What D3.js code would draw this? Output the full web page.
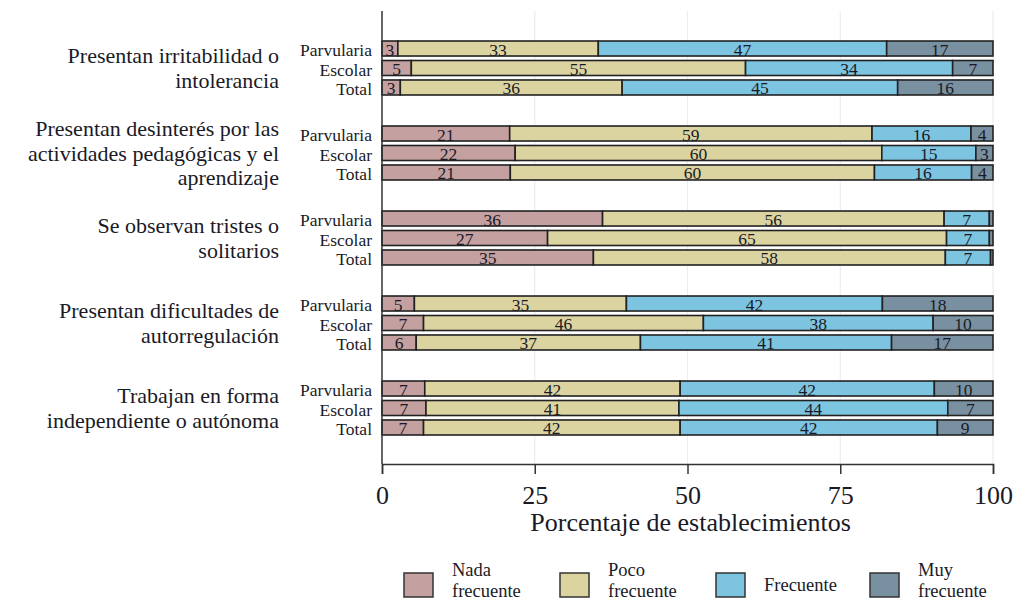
<!DOCTYPE html>
<html><head><meta charset="utf-8">
<script src="https://cdn.jsdelivr.net/npm/d3@7"></script>
<style>
html,body{margin:0;padding:0;background:#fff;}
svg text{font-family:"Liberation Serif","Times New Roman",serif;fill:#1a1a26;}
</style></head>
<body><svg id="c" width="1016" height="602"></svg>
<script>
const groups = [
  ["Presentan irritabilidad o","intolerancia"],
  ["Presentan desinterés por las","actividades pedagógicas y el","aprendizaje"],
  ["Se observan tristes o","solitarios"],
  ["Presentan dificultades de","autorregulación"],
  ["Trabajan en forma","independiente o autónoma"]
];
const levels = ["Parvularia","Escolar","Total"];
const seriesNames = ["Nada frecuente","Poco frecuente","Frecuente","Muy frecuente"];
const seriesLegend = [["Nada","frecuente"],["Poco","frecuente"],["Frecuente"],["Muy","frecuente"]];
const colors = ["#c4a0a0","#dcd4a0","#7cc4e0","#7890a0"];
// values per group: [Parvularia, Escolar, Total] each series
const nada  = [[2.6,4.8,3.0],[20.9,21.8,21.0],[36.1,27.1,34.6],[5.3,6.8,5.6],[7.0,7.2,6.8]];
const poco  = [[32.8,54.7,36.3],[59.3,60.0,59.6],[55.9,65.3,57.6],[34.7,45.8,36.7],[41.8,41.4,42.0]];
const frec  = [[47.2,33.9,45.1],[16.2,15.4,15.9],[7.4,7.0,7.4],[41.9,37.6,41.1],[41.6,44.0,42.1]];
const muy   = [[17.4,6.6,15.6],[3.6,2.8,3.5],[0.6,0.6,0.4],[18.1,9.8,16.6],[9.6,7.4,9.1]];
const xTicks = [0,25,50,75,100];

const svg = d3.select("#c");
const x = d3.scaleLinear().domain([0,100]).range([382,993]);
const gIdx = d3.range(groups.length);
const y0 = d3.scaleBand().domain(gIdx).range([25.5,450.5]).paddingInner(0.365).paddingOuter(0.1825);
const y1 = d3.scaleBand().domain(levels).range([0,y0.bandwidth()]).paddingInner(0.23).paddingOuter(0);
const color = d3.scaleOrdinal().domain(seriesNames).range(colors);

// gridlines
svg.append("g").selectAll("line").data(xTicks.slice(1)).join("line")
  .attr("x1",d=>x(d)).attr("x2",d=>x(d)).attr("y1",11).attr("y2",464)
  .attr("stroke","#e9eef2").attr("stroke-width",1.2);

const rows = [];
gIdx.forEach(g=>{
  levels.forEach((lv,li)=>{
    const vals=[nada[g][li],poco[g][li],frec[g][li],muy[g][li]];
    let acc=0;
    vals.forEach((v,si)=>{rows.push({g,lv,si,x0:acc,x1:acc+v,v});acc+=v;});
  });
});

const bars = svg.append("g");
bars.selectAll("rect").data(rows).join("rect")
  .attr("x",d=>x(d.x0)).attr("width",d=>x(d.x1)-x(d.x0))
  .attr("y",d=>y0(d.g)+y1(d.lv)).attr("height",y1.bandwidth())
  .attr("fill",d=>color(seriesNames[d.si]))
  .attr("stroke","#222").attr("stroke-width",1.6);

bars.selectAll("text").data(rows.filter(d=>d.v>=1.5)).join("text")
  .attr("x",d=>x((d.x0+d.x1)/2)).attr("y",d=>y0(d.g)+y1(d.lv)+y1.bandwidth()-0.5)
  .attr("text-anchor","middle")
  .attr("font-size",17.5).text(d=>Math.round(d.v));

// labels
gIdx.forEach(g=>{
  svg.append("g").selectAll("text").data(levels).join("text")
    .attr("x",372).attr("y",d=>y0(g)+y1(d)+y1.bandwidth())
    .attr("text-anchor","end")
    .attr("font-size",17.5).text(d=>d);
  const lines = groups[g];
  const cy = y0(g)+y0.bandwidth()/2;
  const lh = 24.4;
  svg.append("g").selectAll("text").data(lines).join("text")
    .attr("x",279).attr("y",(d,i)=>cy+(i-(lines.length-1)/2)*lh+7.5)
    .attr("text-anchor","end")
    .attr("font-size",22).text(d=>d);
});

// axes
svg.append("line").attr("x1",382).attr("x2",382).attr("y1",11).attr("y2",464)
  .attr("stroke","#333").attr("stroke-width",1.5);
const xa = svg.append("g").attr("transform","translate(0,464)")
  .call(d3.axisBottom(x).tickValues(xTicks).tickSize(10).tickPadding(12).tickFormat(d3.format("d")));
xa.select(".domain").attr("stroke","#333").attr("stroke-width",1.5);
xa.selectAll(".tick line").attr("stroke","#333").attr("stroke-width",1.5);
xa.selectAll(".tick text").attr("font-size",26).attr("font-family","Liberation Serif, serif").attr("fill","#1a1a26");
svg.append("text").attr("x",x(50.5)).attr("y",531).attr("text-anchor","middle")
  .attr("font-size",26).text("Porcentaje de establecimientos");

// legend
const legX = [404,560,716,870];
const lg = svg.append("g");
seriesNames.forEach((s,i)=>{
  lg.append("rect").attr("x",legX[i]).attr("y",573).attr("width",29).attr("height",24)
    .attr("fill",color(s)).attr("stroke","#333").attr("stroke-width",1.5);
  const lines = seriesLegend[i];
  lg.append("g").selectAll("text").data(lines).join("text")
    .attr("x",legX[i]+48).attr("y",(d,j)=>lines.length===1 ? 591 : 576+j*21)
    .attr("font-size",18.5).text(d=>d);
});
</script></body></html>
